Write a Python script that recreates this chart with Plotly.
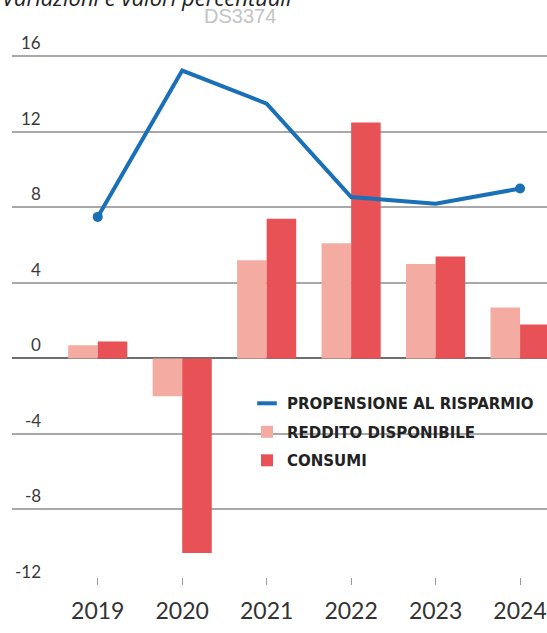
import plotly.graph_objects as go

years = [2019, 2020, 2021, 2022, 2023, 2024]
year_labels = ["2019", "2020", "2021", "2022", "2023", "2024"]
propensione = [7.5, 15.25, 13.5, 8.55, 8.2, 9.0]
reddito = [0.7, -2.0, 5.2, 6.1, 5.0, 2.7]
consumi = [0.9, -10.3, 7.4, 12.5, 5.4, 1.8]
y_ticks = [16, 12, 8, 4, 0, -4, -8, -12]

BLUE = "#1a70b6"
PINK = "#f4aca2"
RED = "#e85256"

W, H = 547, 633
ML, MR, MT, MB = 12, 0, 50, 48
PW = W - ML - MR

fig = go.Figure()

fig.add_trace(go.Scatter(x=years, y=propensione, mode="lines",
                         line=dict(color=BLUE, width=4), showlegend=False,
                         hoverinfo="skip"))
fig.add_trace(go.Scatter(x=[years[0], years[-1]], y=[propensione[0], propensione[-1]],
                         mode="markers", marker=dict(color=BLUE, size=10),
                         showlegend=False, hoverinfo="skip"))
fig.add_trace(go.Scatter(x=[None], y=[None], mode="markers",
                         marker=dict(symbol="line-ew", size=14,
                                     line=dict(color=BLUE, width=4)),
                         name="<b>PROPENSIONE AL RISPARMIO</b>",
                         legendgroup="a"))
fig.add_trace(go.Bar(x=years, y=reddito, marker=dict(color=PINK, line=dict(width=0)),
                     name="<b>REDDITO DISPONIBILE</b>", legendgroup="b"))
fig.add_trace(go.Bar(x=years, y=consumi, marker=dict(color=RED, line=dict(width=0)),
                     name="<b>CONSUMI</b>", legendgroup="c"))

for v in y_ticks:
    fig.add_annotation(x=(43 - ML) / PW, xref="paper", y=v, yref="y",
                       text=str(v), showarrow=False, xanchor="right",
                       yanchor="bottom", yshift=1,
                       font=dict(family="Lato", size=17, color="#3a3a3a"))

fig.add_annotation(x=0, xref="paper", xshift=-ML, y=1, yref="paper", yshift=53,
                   text="<i>Variazioni e valori percentuali</i>", showarrow=False,
                   xanchor="left", yanchor="middle",
                   font=dict(family="Open Sans", size=22, color="#222222"))
fig.add_annotation(x=(240 - ML) / PW, xref="paper", y=1, yref="paper", yshift=34,
                   text="DS3374", showarrow=False, xanchor="center", yanchor="middle",
                   font=dict(family="Liberation Sans", size=20, color="#c4c4c4"))

fig.update_layout(
    width=W, height=H,
    margin=dict(l=ML, r=MR, t=MT, b=MB, pad=0),
    plot_bgcolor="white", paper_bgcolor="white",
    barmode="group", bargap=0.30, bargroupgap=0,
    legend=dict(x=(247 - ML) / PW, xanchor="left", y=0.370, yanchor="top",
                bgcolor="rgba(0,0,0,0)", tracegroupgap=6,
                font=dict(family="DejaVu Sans", size=15, color="#222222"),
                itemwidth=30),
    showlegend=True,
)
fig.update_xaxes(range=[2017.985, 2024.319], tickmode="array", tickvals=years,
                 ticktext=year_labels, ticks="inside", ticklen=7, tickcolor="#999999",
                 tickwidth=1.2, showgrid=False, zeroline=False, showline=False,
                 ticklabelstandoff=10,
                 tickfont=dict(family="Lato", size=23, color="#333333"))
fig.update_yaxes(range=[-12, 16.34], tickmode="array", tickvals=y_ticks,
                 showticklabels=False, showgrid=True, gridcolor="#a8a8a8",
                 gridwidth=1.5, zeroline=True, zerolinecolor="#6e6e6e",
                 zerolinewidth=1.8, showline=False)

fig.write_html("out.html", config={"displayModeBar": False},
               post_script="document.body.style.margin='0';document.body.style.overflow='hidden';")
